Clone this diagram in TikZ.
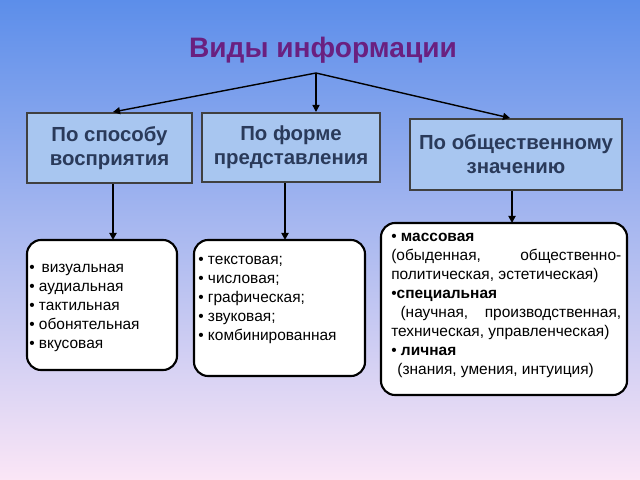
\documentclass[tikz,border=0pt]{standalone}
\usepackage{fontspec}
\setmainfont{Liberation Sans}
\usetikzlibrary{arrows.meta}
\definecolor{bgtop}{HTML}{5C8EEA}
\definecolor{bgbot}{HTML}{FBE6F6}
\definecolor{headfill}{HTML}{A8C6F0}
\definecolor{titlecol}{HTML}{6A2080}
\definecolor{headtext}{HTML}{2A3A5A}
\tikzset{
	kindbox/.style={draw=black!75, line width=2pt, fill=headfill, text=headtext, font=\fontsize{14.5}{17}\selectfont\bfseries, align=center, inner sep=0pt},
	listbox/.style={draw=black, line width=1.5pt, fill=white, rounded corners=10pt},
	listtext/.style={font=\fontsize{11}{13.5}\selectfont, align=left, anchor=north west, inner sep=0pt},
	pointer/.style={-{Triangle[length=5pt,width=5pt]}, line width=1.5pt}
}
\begin{document}
\begin{tikzpicture}[x=0.025cm,y=-0.025cm]

\fill[top color=bgtop, bottom color=bgbot] (0,0) rectangle (640,480);
\useasboundingbox (0,0) rectangle (640,480);

\node[font=\fontsize{20}{22}\selectfont\bfseries, text=titlecol] (title) at (323,50) {Виды информации};
\coordinate (root) at (316,73);

\node[kindbox, minimum width=165*0.025cm, minimum height=70*0.025cm] (form1) at (109.5,148) {По способу\\восприятия};
\node[kindbox, minimum width=178*0.025cm, minimum height=69*0.025cm] (form2) at (291,147.5) {По форме\\представления};
\node[kindbox, minimum width=212*0.025cm, minimum height=71*0.025cm] (form3) at (516,154.5) {По общественному\\значению};

\draw[line width=1pt, -{Triangle[length=5pt,width=5pt]}] (root) -- (113,112);
\draw[line width=1pt, -{Triangle[length=5pt,width=5pt]}] (root) -- (316,112);
\draw[line width=1pt, -{Triangle[length=5pt,width=5pt]}] (root) -- (510,118);

\draw[listbox] (27,240) rectangle (177,370);
\draw[listbox] (194,240) rectangle (365,376);
\draw[listbox] (381,223) rectangle (627,395);
\coordinate (list1) at (113,240);
\coordinate (list2) at (285,240);
\coordinate (list3) at (512,223);

\draw[pointer] (form1.south -| list1) -- (list1);
\draw[pointer] (form2.south -| list2) -- (list2);
\draw[pointer] (form3.south -| list3) -- (list3);

\node[listtext] (kinds1) at (29,264) {•\ \,визуальная\\• аудиальная\\• тактильная\\• обонятельная\\• вкусовая};
\node[listtext] (kinds2) at (198,256) {• текстовая;\\• числовая;\\• графическая;\\• звуковая;\\• комбинированная};
\node[listtext, text width=230*0.025cm, align=justify] (kinds3) at (391,233) {%
• \textbf{массовая}\\
(обыденная, общественно-политическая, эстетическая)\\
•\textbf{специальная}\\
\hspace*{0.6em}(научная, производственная, техническая, управленческая)\\
• \textbf{личная}\\
\hspace*{0.4em}(знания, умения, интуиция)};

\end{tikzpicture}
\end{document}
